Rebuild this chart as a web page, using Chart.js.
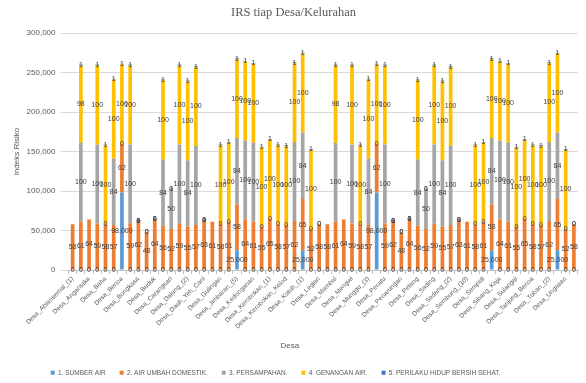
<!DOCTYPE html>
<html>
<head>
<meta charset="utf-8">
<script src="https://cdn.jsdelivr.net/npm/chart.js"></script>
<style>
  html, body { margin: 0; padding: 0; background: #fff; }
</style>
</head>
<body>
<canvas id="irsChart" width="586" height="383"></canvas>
<script>
// Nama desa (label sumbu X, hanya yang genap yang tampil)
const desa = [
  'Desa_Abiansemal_(1)', 'Desa_Abiansemal_(2)', 'Desa_Angantaka', 'Desa_Ayunan', 'Desa_Baha', 'Desa_Belok',
  'Desa_Benoa', 'Desa_Blahkiuh', 'Desa_Bongkasa', 'Desa_Bongkasa_Pertiwi', 'Desa_Buduk', 'Desa_Canggu',
  'Desa_Carangsari', 'Desa_Cemagi', 'Desa_Dalung_(2)', 'Desa_Darmasaba', 'Desa_Dauh_Yeh_Cani', 'Desa_Gerih',
  'Desa_Gulingan', 'Desa_Jagapati', 'Desa_Jimbaran_(5)', 'Desa_Kapal', 'Desa_Kedonganan', 'Desa_Kekeran',
  'Desa_Kerobokan_(1)', 'Desa_Kerobokan_Kaja', 'Desa_Kerobokan_Kelod', 'Desa_Kuta', 'Desa_Kutuh_(1)', 'Desa_Kutuh_(2)',
  'Desa_Legian', 'Desa_Lukluk', 'Desa_Mambal', 'Desa_Mekar_Bhuwana', 'Desa_Mengwi', 'Desa_Mengwitani',
  'Desa_Munggu_(3)', 'Desa_Pangsan', 'Desa_Pecatu', 'Desa_Pelaga', 'Desa_Penarungan', 'Desa_Pererenan',
  'Desa_Petang', 'Desa_Punggul', 'Desa_Sading', 'Desa_Sangeh', 'Desa_Sedang_(2)', 'Desa_Selat',
  'Desa_Sembung_(10)', 'Desa_Sembung_(11)', 'Desa_Sempidi', 'Desa_Sibang_Gede', 'Desa_Sibang_Kaja', 'Desa_Sobangan',
  'Desa_Sulangai', 'Desa_Taman', 'Desa_Tanjung_Benoa', 'Desa_Tibubeneng', 'Desa_Tuban_(2)', 'Desa_Tumbak_Bayuh',
  'Desa_Ungasan', 'Desa_Werdi_Bhuwana'
];

// Nilai tiap komponen (null = tidak ada data)
const sumberAir = [
  0, 0, 0, 0, 0, 0, 98000, 0, 0, 0, 0, 0, 0, 0, 0, 0, 0, 0, 0, 0, 25000, 0, 0, 0, 0, 0, 0, 0, 25000, 0, 0,
  0, 0, 0, 0, 0, 0, 98000, 0, 0, 0, 0, 0, 0, 0, 0, 0, 0, 0, 0, 0, 25000, 0, 0, 0, 0, 0, 0, 0, 25000, 0, 0
];
const airUmbah = [
  58000, 61000, 64000, 59000, 58000, 57000, 62000, 59000, 62000, 48000, 64000, 56000, 52000, 59000, 55000, 57000,
  63000, 61000, 58000, 61000, 58000, 64000, 61000, 55000, 65000, 58000, 57000, 62000, 65000, 52000, 58000,
  58000, 61000, 64000, 59000, 58000, 57000, 62000, 59000, 62000, 48000, 64000, 56000, 52000, 59000, 55000, 57000,
  63000, 61000, 58000, 61000, 58000, 64000, 61000, 55000, 65000, 58000, 57000, 62000, 65000, 52000, 58000
];
const persampahan = [
  null, 100000, null, 100000, 0, 84000, 0, 100000, 0, 0, 0, 84000, 50000, 100000, 84000, 100000,
  0, null, 0, 0, 84000, 100000, 100000, 0, 0, 0, 0, 100000, 84000, 0, 0,
  null, 100000, null, 100000, 0, 84000, 0, 100000, 0, 0, 0, 84000, 50000, 100000, 84000, 100000,
  0, null, 0, 0, 84000, 100000, 100000, 0, 0, 0, 0, 100000, 84000, 0, 0
];
const genangan = [
  null, 98000, null, 100000, 100000, 100000, 100000, 100000, 0, 0, 0, 100000, 0, 100000, 100000, 100000,
  0, null, 100000, 100000, 100000, 100000, 100000, 100000, 100000, 100000, 100000, 100000, 100000, 100000, 0,
  null, 98000, null, 100000, 100000, 100000, 100000, 100000, 0, 0, 0, 100000, 0, 100000, 100000, 100000,
  0, null, 100000, 100000, 100000, 100000, 100000, 100000, 100000, 100000, 100000, 100000, 100000, 100000, 0
];
const phbs = [
  null, 1000, null, 1000, 1000, 1000, 1000, 1000, 1000, null, 1000, 1000, 1000, 1000, 1000, 1000,
  1000, null, 1000, 1000, 1000, 1000, 1000, 1000, 1000, 1000, 1000, 1000, 1000, 1000, null,
  null, 1000, null, 1000, 1000, 1000, 1000, 1000, 1000, null, 1000, 1000, 1000, 1000, 1000, 1000,
  1000, null, 1000, 1000, 1000, 1000, 1000, 1000, 1000, 1000, 1000, 1000, 1000, 1000, null
];

const teksAbu = '#595959';
const hurufSans = '"Liberation Sans", Arial, sans-serif';

// Label angka di tengah tiap potongan batang
const labelNilai = {
    id: 'labelNilai',
    afterDatasetsDraw(chart) {
        const ctx = chart.ctx;
        ctx.save();
        ctx.font = '7px ' + hurufSans;
        ctx.fillStyle = '#404040';
        ctx.textAlign = 'center';
        ctx.textBaseline = 'middle';
        chart.data.datasets.forEach((ds, di) => {
            const meta = chart.getDatasetMeta(di);
            meta.data.forEach((bar, i) => {
                const v = ds.data[i];
                if (v === null || v === undefined) return;
                const teks = di === 0 ? v.toLocaleString('en-US') : String(Math.round(v / 1000));
                ctx.fillText(teks, bar.x, (bar.y + bar.base) / 2);
            });
        });
        ctx.restore();
    }
};

// Geser legenda sedikit ke kiri bawah seperti di gambar asli
const geserLegenda = {
    id: 'geserLegenda',
    afterUpdate(chart) {
        const lg = chart.legend;
        lg.left -= 18;
        lg.right -= 18;
        lg.top += 5;
        lg.bottom += 5;
    }
};

new Chart(document.getElementById('irsChart'), {
    type: 'bar',
    data: {
        labels: desa,
        datasets: [
            { label: '1. SUMBER AIR', data: sumberAir, backgroundColor: '#5B9BD5' },
            { label: '2. AIR UMBAH DOMESTIK.', data: airUmbah, backgroundColor: '#ED7D31' },
            { label: '3. PERSAMPAHAN.', data: persampahan, backgroundColor: '#A5A5A5' },
            { label: '4. GENANGAN AIR.', data: genangan, backgroundColor: '#FFC000' },
            { label: '5. PERILAKU HIDUP BERSIH SEHAT.', data: phbs, backgroundColor: '#4472C4' }
        ]
    },
    options: {
        responsive: false,
        animation: false,
        devicePixelRatio: 1,
        barPercentage: 0.45,
        categoryPercentage: 1,
        layout: { padding: { left: 9, right: 8, top: 0, bottom: 2 } },
        scales: {
            x: {
                stacked: true,
                grid: { drawOnChartArea: false, tickLength: 4, color: '#BFBFBF' },
                border: { color: '#BFBFBF' },
                ticks: {
                    autoSkip: false,
                    maxRotation: 45,
                    minRotation: 45,
                    padding: 1,
                    color: teksAbu,
                    font: { family: hurufSans, size: 6.5 },
                    callback: (v, i) => (i % 2 === 0 ? desa[i] : '')
                },
                title: {
                    display: true,
                    // spasi di belakang agar judul bergeser ke kiri seperti aslinya
                    text: 'Desa' + ' '.repeat(30),
                    color: teksAbu,
                    font: { family: hurufSans, size: 8 },
                    padding: { top: 9.5, bottom: 0 }
                }
            },
            y: {
                stacked: true,
                min: 0,
                max: 300000,
                grid: { color: '#D9D9D9' },
                border: { display: false },
                ticks: {
                    stepSize: 50000,
                    padding: 5,
                    color: teksAbu,
                    font: { family: hurufSans, size: 8 },
                    callback: v => v.toLocaleString('en-US')
                },
                title: {
                    display: true,
                    text: 'Indeks Risiko',
                    color: teksAbu,
                    font: { family: hurufSans, size: 8 },
                    padding: { top: 3, bottom: 0 }
                }
            }
        },
        plugins: {
            title: {
                display: true,
                text: 'IRS tiap Desa/Kelurahan',
                color: teksAbu,
                font: { family: '"Liberation Serif", "Times New Roman", serif', size: 12.5, weight: 'normal' },
                padding: { top: 5, bottom: 13 }
            },
            legend: {
                position: 'bottom',
                labels: {
                    boxWidth: 4,
                    boxHeight: 4,
                    padding: 14,
                    color: teksAbu,
                    font: { family: hurufSans, size: 6.5 }
                }
            },
            tooltip: { enabled: false }
        }
    },
    plugins: [labelNilai, geserLegenda]
});
</script>
</body>
</html>
